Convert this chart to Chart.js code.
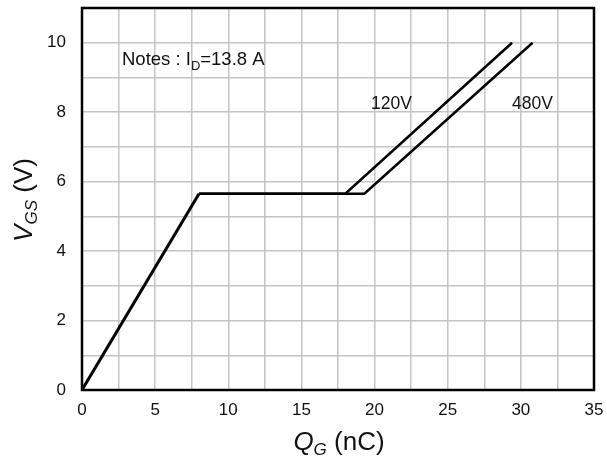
<!DOCTYPE html>
<html><head><meta charset="utf-8">
<script src="https://cdn.jsdelivr.net/npm/chart.js@4.4.1/dist/chart.umd.min.js"></script>
<style>html,body{margin:0;padding:0;background:#fff}#wrap{width:607px;height:465px}</style>
</head><body><div id="wrap"><canvas id="c" width="607" height="465"></canvas></div>
<script>
const qCommon = [0, 8.0];
const vCommon = [0, 5.65];
const q120 = [8.0, 18.0, 29.4];
const v120 = [5.65, 5.65, 10.0];
const q480 = [8.0, 19.3, 30.8];
const v480 = [5.65, 5.65, 10.0];
const xTickLabels = [0, 5, 10, 15, 20, 25, 30, 35];
const yTickLabels = [0, 2, 4, 6, 8, 10];
const notesText = ['Notes : I', 'D', '=13.8 A'];
const seriesLabels = ['120V', '480V'];

function pts(xs, ys){ return xs.map((x,i)=>({x:x, y:ys[i]})); }
const FONT = '"Liberation Sans", Arial, sans-serif';

const textPlugin = {
  id: 'texts',
  afterDraw(chart){
    const ctx = chart.ctx, ca = chart.chartArea;
    ctx.save();
    ctx.fillStyle = '#111';
    // Notes
    ctx.textBaseline = 'middle';
    ctx.textAlign = 'left';
    let x = 122, y = 60;
    ctx.font = '18.5px ' + FONT;
    ctx.fillText(notesText[0], x, y); x += ctx.measureText(notesText[0]).width;
    ctx.font = '13px ' + FONT;
    ctx.fillText(notesText[1], x, y + 6); x += ctx.measureText(notesText[1]).width;
    ctx.font = '18.5px ' + FONT;
    ctx.fillText(notesText[2], x, y);
    // series labels
    ctx.font = '17.5px ' + FONT;
    ctx.fillText(seriesLabels[0], 371, 104);
    ctx.fillText(seriesLabels[1], 512, 104);
    // x title
    ctx.textBaseline = 'alphabetic';
    const cx = 339;
    const parts = [['italic 26px ' + FONT, 'Q', 0], ['italic 17px ' + FONT, 'G', 5], ['26px ' + FONT, ' (nC)', 0]];
    let tw = 0;
    parts.forEach(p=>{ctx.font=p[0]; tw += ctx.measureText(p[1]).width;});
    let px = cx - tw/2;
    parts.forEach(p=>{ctx.font=p[0]; ctx.fillText(p[1], px, 450 + p[2]); px += ctx.measureText(p[1]).width;});
    // y title
    ctx.translate(32, 200);
    ctx.rotate(-Math.PI/2);
    const yp = [['italic 26px ' + FONT, 'V', 0], ['italic 17px ' + FONT, 'GS', 5], ['26px ' + FONT, ' (V)', 0]];
    tw = 0;
    yp.forEach(p=>{ctx.font=p[0]; tw += ctx.measureText(p[1]).width;});
    px = -tw/2;
    yp.forEach(p=>{ctx.font=p[0]; ctx.fillText(p[1], px, p[2]); px += ctx.measureText(p[1]).width;});
    ctx.restore();
    // border
    ctx.save();
    ctx.strokeStyle = '#000'; ctx.lineWidth = 2.5;
    ctx.strokeRect(ca.left, ca.top, ca.right - ca.left, ca.bottom - ca.top);
    ctx.restore();
  }
};

new Chart(document.getElementById('c'), {
  type: 'scatter',
  data: { datasets: [
    { data: pts(qCommon, vCommon), showLine: true, borderColor: '#000', borderWidth: 3, pointRadius: 0, fill: false },
    { data: pts(q120, v120), showLine: true, borderColor: '#000', borderWidth: 2.5, pointRadius: 0, fill: false },
    { data: pts(q480, v480), showLine: true, borderColor: '#000', borderWidth: 2.5, pointRadius: 0, fill: false }
  ]},
  options: {
    responsive: false, animation: false, devicePixelRatio: 1,
    layout: { autoPadding: false, padding: { left: 0, right: 13, top: 8, bottom: 0 } },
    plugins: { legend: { display: false }, tooltip: { enabled: false } },
    scales: {
      x: { type: 'linear', min: 0, max: 35,
        afterFit(s){ s.height = 75; s.paddingLeft = 0; s.paddingRight = 0; },
        border: { display: false },
        grid: { color: '#c4c4c4', lineWidth: 1.5, drawTicks: false },
        ticks: { stepSize: 2.5, autoSkip: false, maxRotation: 0, padding: 10, color: '#111', font: { family: FONT, size: 17 },
          callback: v => xTickLabels.includes(v) ? String(v) : '' } },
      y: { type: 'linear', min: 0, max: 11,
        afterFit(s){ s.width = 82; s.paddingTop = 0; s.paddingBottom = 0; },
        border: { display: false },
        grid: { color: '#c4c4c4', lineWidth: 1.5, drawTicks: false },
        ticks: { stepSize: 1, autoSkip: false, padding: 16, color: '#111', font: { family: FONT, size: 17 },
          callback: v => yTickLabels.includes(v) ? String(v) : '' } }
    }
  },
  plugins: [textPlugin]
});
</script></body></html>
